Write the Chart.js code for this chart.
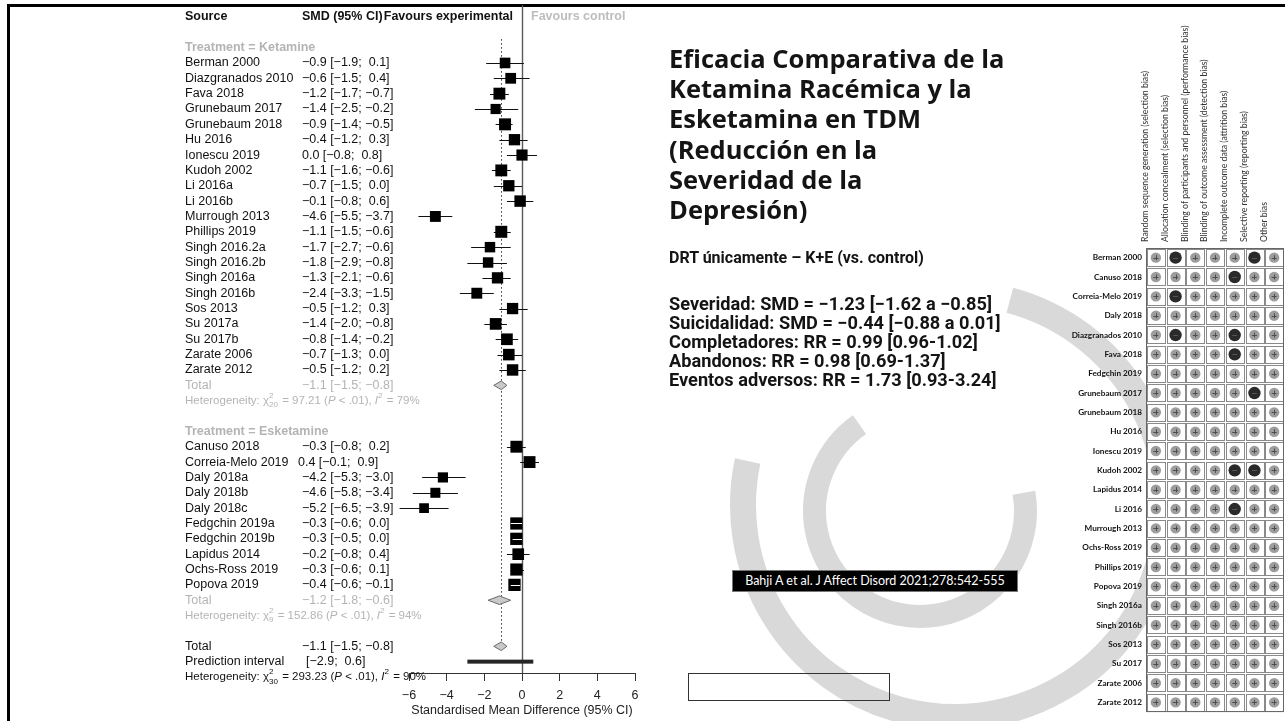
<!DOCTYPE html>
<html>
<head>
<meta charset="utf-8">
<script src="https://cdn.jsdelivr.net/npm/chart.js@4.4.1/dist/chart.umd.min.js"></script>
<style>
  html, body { margin: 0; padding: 0; background: #fff; }
  body { width: 1285px; height: 721px; position: relative; overflow: hidden; font-family: 'Liberation Sans', Arial, sans-serif; }
  #deco { position: absolute; left: 0; top: 0; }
  #frame { position: absolute; left: 7px; top: 4px; width: 1300px; height: 740px; border-top: 3px solid #000; border-left: 3px solid #000; box-sizing: border-box; }
  #forest { position: absolute; left: 0; top: 0; }
  #rob { position: absolute; left: 1040px; top: 0; }
  .title { position: absolute; left: 669px; top: 43px; font-family: 'Open Sans', sans-serif; font-weight: 700; font-size: 25.5px; line-height: 30.2px; color: #141414; white-space: nowrap; }
  .subtitle { position: absolute; left: 669px; top: 248px; font-family: 'Roboto', sans-serif; font-weight: 700; font-size: 16px; line-height: 19px; color: #141414; white-space: nowrap; }
  .stats { position: absolute; left: 669px; top: 294px; font-family: 'Roboto', sans-serif; font-weight: 700; font-size: 18.2px; line-height: 19px; color: #141414; white-space: nowrap; }
  .cite { position: absolute; left: 732px; top: 570px; width: 286px; height: 22px; background: #000; border: 1px solid #777; box-sizing: border-box; color: #fff; font-family: 'Lato', sans-serif; font-size: 12.5px; line-height: 20px; text-align: center; white-space: nowrap; }
  .emptybox { position: absolute; left: 688px; top: 673px; width: 202px; height: 28px; border: 1px solid #333; box-sizing: border-box; }
</style>
</head>
<body>
<canvas id="deco" width="1285" height="721"></canvas>
<div id="frame"></div>
<canvas id="forest" width="660" height="721"></canvas>

<div class="title">Eficacia Comparativa de la<br>Ketamina Racémica y la<br>Esketamina en TDM<br>(Reducción en la<br>Severidad de la<br>Depresión)</div>
<div class="subtitle">DRT únicamente – K+E (vs. control)</div>
<div class="stats">Severidad: SMD = −1.23 [−1.62 a −0.85]<br>Suicidalidad: SMD = −0.44 [−0.88 a 0.01]<br>Completadores: RR = 0.99 [0.96-1.02]<br>Abandonos: RR = 0.98 [0.69-1.37]<br>Eventos adversos: RR = 1.73 [0.93-3.24]</div>
<div class="cite">Bahji A et al. J Affect Disord 2021;278:542-555</div>
<div class="emptybox"></div>

<canvas id="rob" width="245" height="721"></canvas>

<script>
// ---------- Forest plot data: standardised mean differences with 95% CI ----------
const ketamineStudies = ['Berman 2000', 'Diazgranados 2010', 'Fava 2018', 'Grunebaum 2017', 'Grunebaum 2018', 'Hu 2016',
  'Ionescu 2019', 'Kudoh 2002', 'Li 2016a', 'Li 2016b', 'Murrough 2013', 'Phillips 2019', 'Singh 2016.2a', 'Singh 2016.2b',
  'Singh 2016a', 'Singh 2016b', 'Sos 2013', 'Su 2017a', 'Su 2017b', 'Zarate 2006', 'Zarate 2012'];
const ketamineSMD  = [-0.9, -0.6, -1.2, -1.4, -0.9, -0.4, 0.0, -1.1, -0.7, -0.1, -4.6, -1.1, -1.7, -1.8, -1.3, -2.4, -0.5, -1.4, -0.8, -0.7, -0.5];
const ketamineLow  = [-1.9, -1.5, -1.7, -2.5, -1.4, -1.2, -0.8, -1.6, -1.5, -0.8, -5.5, -1.5, -2.7, -2.9, -2.1, -3.3, -1.2, -2.0, -1.4, -1.3, -1.2];
const ketamineHigh = [0.1, 0.4, -0.7, -0.2, -0.5, 0.3, 0.8, -0.6, 0.0, 0.6, -3.7, -0.6, -0.6, -0.8, -0.6, -1.5, 0.3, -0.8, -0.2, 0.0, 0.2];

const esketamineStudies = ['Canuso 2018', 'Correia-Melo 2019', 'Daly 2018a', 'Daly 2018b', 'Daly 2018c', 'Fedgchin 2019a',
  'Fedgchin 2019b', 'Lapidus 2014', 'Ochs-Ross 2019', 'Popova 2019'];
const esketamineSMD  = [-0.3, 0.4, -4.2, -4.6, -5.2, -0.3, -0.3, -0.2, -0.3, -0.4];
const esketamineLow  = [-0.8, -0.1, -5.3, -5.8, -6.5, -0.6, -0.5, -0.8, -0.6, -0.6];
const esketamineHigh = [0.2, 0.9, -3.0, -3.4, -3.9, 0.0, 0.0, 0.4, 0.1, -0.1];

// pooled estimates [estimate, lower, upper]
const ketamineTotal   = [-1.1, -1.5, -0.8];
const esketamineTotal = [-1.2, -1.8, -0.6];
const overallTotal    = [-1.1, -1.5, -0.8];
const predictionInterval = [-2.9, 0.6];

// heterogeneity: [chi-square, df, I² %]
const ketamineHet   = [97.21, 20, 79];
const esketamineHet = [152.86, 9, 94];
const overallHet    = [293.23, 30, 90];

const xTicks = [-6, -4, -2, 0, 2, 4, 6];

// ---------- Risk-of-bias summary ----------
const robStudies = ['Berman 2000', 'Canuso 2018', 'Correia-Melo 2019', 'Daly 2018', 'Diazgranados 2010', 'Fava 2018',
  'Fedgchin 2019', 'Grunebaum 2017', 'Grunebaum 2018', 'Hu 2016', 'Ionescu 2019', 'Kudoh 2002', 'Lapidus 2014', 'Li 2016',
  'Murrough 2013', 'Ochs-Ross 2019', 'Phillips 2019', 'Popova 2019', 'Singh 2016a', 'Singh 2016b', 'Sos 2013', 'Su 2017',
  'Zarate 2006', 'Zarate 2012'];
const robDomains = ['Random sequence generation (selection bias)', 'Allocation concealment (selection bias)',
  'Blinding of participants and personnel (performance bias)', 'Blinding of outcome assessment (detection bias)',
  'Incomplete outcome data (attrition bias)', 'Selective reporting (reporting bias)', 'Other bias'];
// one character per domain: '+' low risk, '-' high risk
const robJudgements = ['+-+++-+', '++++-++', '+-+++++', '+++++++', '+-++-++', '++++-++', '+++++++', '+++++-+',
  '+++++++', '+++++++', '+++++++', '++++--+', '+++++++', '++++-++', '+++++++', '+++++++', '+++++++', '+++++++',
  '+++++++', '+++++++', '+++++++', '+++++++', '+++++++', '+++++++'];

// ---------- decorative background arcs ----------
(function drawDeco() {
  const c = document.getElementById('deco').getContext('2d');
  const deg = Math.PI / 180;
  c.strokeStyle = '#d9d9d9';
  c.lineCap = 'butt';
  c.lineWidth = 23;
  c.beginPath();
  c.arc(920, 511, 105.5, -10 * deg, 235 * deg, false);
  c.stroke();
  c.lineWidth = 26;
  c.beginPath();
  c.arc(955, 505, 212, -75 * deg, 192 * deg, false);
  c.stroke();
})();

// ---------- forest plot ----------
const FONT = "'Liberation Sans', Arial, sans-serif";
const GREY = '#b4b4b4';
const minus = s => s.replace(/-/g, '\u2212');
const fmt = v => (v < 0 ? '\u2212' : '') + Math.abs(v).toFixed(1);
const ciText = (e, lo, hi) => `${fmt(e)} [${fmt(lo)}; ${hi >= 0 ? ' ' : ''}${fmt(hi)}]`;

// row layout (one row per text line, top to bottom)
const ROW_KET_LABEL = 2;
const ROW_KET_FIRST = 3;
const ROW_KET_TOTAL = ROW_KET_FIRST + ketamineStudies.length;
const ROW_ES_LABEL = ROW_KET_TOTAL + 3;
const ROW_ES_FIRST = ROW_ES_LABEL + 1;
const ROW_ES_TOTAL = ROW_ES_FIRST + esketamineStudies.length;
const ROW_ALL_TOTAL = ROW_ES_TOTAL + 3;

const studyPoints = [];
ketamineStudies.forEach((s, i) => studyPoints.push({ x: ketamineSMD[i], y: ROW_KET_FIRST + i, lo: ketamineLow[i], hi: ketamineHigh[i], name: s }));
esketamineStudies.forEach((s, i) => studyPoints.push({ x: esketamineSMD[i], y: ROW_ES_FIRST + i, lo: esketamineLow[i], hi: esketamineHigh[i], name: s }));

// between-study variance implied by the prediction interval (t with k-2 df ≈ 2.045)
const seOverall = (overallTotal[2] - overallTotal[1]) / 3.92;
const tau2 = Math.pow((predictionInterval[1] - predictionInterval[0]) / 2 / 2.045, 2) - seOverall * seOverall;
// random-effects weight -> square side in px
function squareSide(p) {
  const se = (p.hi - p.lo) / 3.92;
  const w = 1 / (se * se + tau2);
  return 10.4 * Math.sqrt(w);
}

function richText(ctx, x, y, parts, size, color) {
  ctx.save();
  ctx.fillStyle = color;
  ctx.textBaseline = 'middle';
  ctx.textAlign = 'left';
  let cx = x;
  for (const p of parts) {
    if (p.sup !== undefined || p.sub !== undefined) {
      ctx.font = `${size * 0.7}px ${FONT}`;
      let w = 0;
      if (p.sup !== undefined) { ctx.fillText(p.sup, cx, y - size * 0.42); w = ctx.measureText(p.sup).width; }
      if (p.sub !== undefined) { ctx.fillText(p.sub, cx, y + size * 0.38); w = Math.max(w, ctx.measureText(p.sub).width); }
      cx += w + 1;
    } else {
      ctx.font = `${p.it ? 'italic ' : ''}${size}px ${FONT}`;
      ctx.fillText(p.t, cx, y);
      cx += ctx.measureText(p.t).width;
    }
  }
  ctx.restore();
}
function hetParts(h) {
  return [{ t: 'Heterogeneity: ' }, { t: '\u03c7' }, { sup: '2', sub: String(h[1]) },
    { t: ' = ' + h[0].toFixed(2) + ' (' }, { t: 'P', it: true }, { t: ' < .01), ' },
    { t: 'I', it: true }, { sup: '2' }, { t: ' = ' + h[2] + '%' }];
}

const forestPlugin = {
  id: 'forestMarks',
  beforeDatasetsDraw(chart) {
    const { ctx, scales: { x, y }, chartArea } = chart;
    ctx.save();
    // line of no effect
    ctx.strokeStyle = '#5a5a5a';
    ctx.lineWidth = 1.4;
    ctx.beginPath();
    ctx.moveTo(Math.round(x.getPixelForValue(0)) + 0.5, y.getPixelForValue(-0.75));
    ctx.lineTo(Math.round(x.getPixelForValue(0)) + 0.5, chartArea.bottom);
    ctx.stroke();
    // dotted line at the overall pooled estimate
    ctx.strokeStyle = '#333';
    ctx.lineWidth = 1;
    ctx.setLineDash([1.5, 2.5]);
    const xo = Math.round(x.getPixelForValue(overallTotal[0])) + 0.5;
    ctx.beginPath();
    ctx.moveTo(xo, y.getPixelForValue(1.45));
    ctx.lineTo(xo, y.getPixelForValue(ROW_ALL_TOTAL));
    ctx.stroke();
    ctx.setLineDash([]);
    // confidence intervals
    ctx.strokeStyle = '#111';
    ctx.lineWidth = 1;
    for (const p of studyPoints) {
      const py = Math.round(y.getPixelForValue(p.y)) + 0.5;
      ctx.beginPath();
      ctx.moveTo(x.getPixelForValue(p.lo), py);
      ctx.lineTo(x.getPixelForValue(p.hi), py);
      ctx.stroke();
    }
    ctx.restore();
  },
  afterDatasetsDraw(chart) {
    const { ctx, scales: { x, y } } = chart;
    ctx.save();
    // CI drawn in white where it lies completely inside its square
    ctx.strokeStyle = '#fff';
    ctx.lineWidth = 1;
    for (const p of studyPoints) {
      const half = squareSide(p) / 2;
      const cx = x.getPixelForValue(p.x);
      const l = x.getPixelForValue(p.lo), r = x.getPixelForValue(p.hi);
      if (l > cx - half && r < cx + half) {
        const py = Math.round(y.getPixelForValue(p.y)) + 0.5;
        ctx.beginPath(); ctx.moveTo(l, py); ctx.lineTo(r, py); ctx.stroke();
      }
    }
    // pooled diamonds
    const diamond = (row, est) => {
      const py = y.getPixelForValue(row);
      ctx.beginPath();
      ctx.moveTo(x.getPixelForValue(est[1]), py);
      ctx.lineTo(x.getPixelForValue(est[0]), py - 4.3);
      ctx.lineTo(x.getPixelForValue(est[2]), py);
      ctx.lineTo(x.getPixelForValue(est[0]), py + 4.3);
      ctx.closePath();
      ctx.fillStyle = '#c9c9c9';
      ctx.fill();
      ctx.strokeStyle = '#6a6a6a';
      ctx.lineWidth = 1;
      ctx.stroke();
    };
    diamond(ROW_KET_TOTAL, ketamineTotal);
    diamond(ROW_ES_TOTAL, esketamineTotal);
    diamond(ROW_ALL_TOTAL, overallTotal);
    // prediction interval bar
    const pr = y.getPixelForValue(ROW_ALL_TOTAL + 1);
    const pl = x.getPixelForValue(predictionInterval[0]);
    ctx.fillStyle = '#262626';
    ctx.fillRect(pl, pr - 2, x.getPixelForValue(predictionInterval[1]) - pl, 4);
    ctx.restore();
  },
  afterDraw(chart) {
    const { ctx, scales: { x, y } } = chart;
    const X_NAME = 185, X_CI = 302;
    const size = 12.5;
    const put = (txt, px, row, color, bold, align) => {
      ctx.font = `${bold ? 'bold ' : ''}${size}px ${FONT}`;
      ctx.fillStyle = color;
      ctx.textAlign = align || 'left';
      ctx.textBaseline = 'middle';
      ctx.fillText(txt, px, y.getPixelForValue(row));
    };
    ctx.save();
    const x0 = x.getPixelForValue(0);
    put('Source', X_NAME, 0, '#111', true);
    put('SMD (95% CI)', X_CI, 0, '#111', true);
    put('Favours experimental', x0 - 9, 0, '#111', true, 'right');
    put('Favours control', x0 + 9, 0, '#bdbdbd', true);

    put('Treatment = Ketamine', X_NAME, ROW_KET_LABEL, GREY, true);
    ketamineStudies.forEach((s, i) => {
      put(s, X_NAME, ROW_KET_FIRST + i, '#111');
      put(ciText(ketamineSMD[i], ketamineLow[i], ketamineHigh[i]), X_CI, ROW_KET_FIRST + i, '#111');
    });
    put('Total', X_NAME, ROW_KET_TOTAL, GREY);
    put(ciText(...ketamineTotal), X_CI, ROW_KET_TOTAL, GREY);
    richText(ctx, X_NAME, y.getPixelForValue(ROW_KET_TOTAL + 1), hetParts(ketamineHet), 11.5, GREY);

    put('Treatment = Esketamine', X_NAME, ROW_ES_LABEL, GREY, true);
    esketamineStudies.forEach((s, i) => {
      put(s, X_NAME, ROW_ES_FIRST + i, '#111');
      put(ciText(esketamineSMD[i], esketamineLow[i], esketamineHigh[i]), X_CI - (esketamineSMD[i] >= 0 ? 4 : 0), ROW_ES_FIRST + i, '#111');
    });
    put('Total', X_NAME, ROW_ES_TOTAL, GREY);
    put(ciText(...esketamineTotal), X_CI, ROW_ES_TOTAL, GREY);
    richText(ctx, X_NAME, y.getPixelForValue(ROW_ES_TOTAL + 1), hetParts(esketamineHet), 11.5, GREY);

    put('Total', X_NAME, ROW_ALL_TOTAL, '#111');
    put(ciText(...overallTotal), X_CI, ROW_ALL_TOTAL, '#111');
    put('Prediction interval', X_NAME, ROW_ALL_TOTAL + 1, '#111');
    put(`[${fmt(predictionInterval[0])}; ${predictionInterval[1] >= 0 ? ' ' : ''}${fmt(predictionInterval[1])}]`, X_CI + 4, ROW_ALL_TOTAL + 1, '#111');
    richText(ctx, X_NAME, y.getPixelForValue(ROW_ALL_TOTAL + 2), hetParts(overallHet), 11.5, '#111');
    ctx.restore();
  }
};

new Chart(document.getElementById('forest'), {
  type: 'scatter',
  data: {
    datasets: [{
      data: studyPoints,
      pointStyle: 'rect',
      pointRadius: c => squareSide(c.raw) / Math.SQRT2,
      pointHoverRadius: c => squareSide(c.raw) / Math.SQRT2,
      backgroundColor: '#000',
      borderWidth: 0
    }]
  },
  options: {
    responsive: false,
    animation: false,
    events: [],
    layout: { autoPadding: false, padding: { left: 409, right: 25, top: 0, bottom: 0 } },
    plugins: { legend: { display: false }, tooltip: { enabled: false } },
    scales: {
      x: {
        type: 'linear', position: 'bottom',
        min: xTicks[0], max: xTicks[xTicks.length - 1],
        afterBuildTicks: s => { s.ticks = xTicks.map(v => ({ value: v })); },
        afterFit: s => { s.height = 48; },
        ticks: { font: { family: FONT, size: 12.5 }, color: '#222', padding: 7, callback: v => minus(String(v)) },
        grid: { drawOnChartArea: false, drawTicks: true, tickLength: 8, color: '#333', lineWidth: 1 },
        border: { display: true, color: '#333', width: 1 },
        title: { display: true, text: 'Standardised Mean Difference (95% CI)', font: { family: FONT, size: 12.5 }, color: '#222', padding: { top: 0, bottom: 3 } }
      },
      y: { type: 'linear', display: false, reverse: true, min: -1.1, max: 42.74 }
    }
  },
  plugins: [forestPlugin]
});

// ---------- risk-of-bias summary table ----------
const robPoints = [];
robStudies.forEach((s, i) => {
  for (let d = 0; d < robDomains.length; d++) robPoints.push({ x: robDomains[d], y: s, j: robJudgements[i][d] });
});

const robPlugin = {
  id: 'robCells',
  beforeDatasetsDraw(chart) {
    const { ctx, scales: { x, y }, chartArea } = chart;
    const hw = (x.getPixelForValue(1) - x.getPixelForValue(0)) / 2;
    const hh = (y.getPixelForValue(1) - y.getPixelForValue(0)) / 2;
    ctx.save();
    ctx.fillStyle = '#fff';
    ctx.fillRect(chartArea.left, chartArea.top, chartArea.width, chartArea.height);
    ctx.strokeStyle = '#8a8a8a';
    ctx.lineWidth = 1;
    for (let i = 0; i < robStudies.length; i++) {
      for (let d = 0; d < robDomains.length; d++) {
        const cx = x.getPixelForValue(d), cy = y.getPixelForValue(i);
        ctx.strokeRect(Math.round(cx - hw) + 1.5, Math.round(cy - hh) + 1.5, Math.round(2 * hw) - 2, Math.round(2 * hh) - 2);
      }
    }
    ctx.strokeStyle = '#666';
    ctx.strokeRect(chartArea.left + 0.5, chartArea.top + 0.5, chartArea.width - 1, chartArea.height - 1);
    ctx.restore();
  },
  afterDatasetsDraw(chart) {
    const { ctx } = chart;
    const meta = chart.getDatasetMeta(0);
    ctx.save();
    meta.data.forEach((el, k) => {
      const j = robPoints[k].j;
      ctx.strokeStyle = j === '+' ? '#4d4d4d' : '#555';
      ctx.lineWidth = 1;
      ctx.beginPath();
      ctx.moveTo(el.x - 2.5, Math.round(el.y) + 0.5); ctx.lineTo(el.x + 2.5, Math.round(el.y) + 0.5);
      if (j === '+') { ctx.moveTo(Math.round(el.x) + 0.5, el.y - 2.5); ctx.lineTo(Math.round(el.x) + 0.5, el.y + 2.5); }
      ctx.stroke();
    });
    ctx.restore();
  }
};

new Chart(document.getElementById('rob'), {
  type: 'scatter',
  data: {
    datasets: [{
      data: robPoints,
      pointRadius: c => (c.raw.j === '+' ? 5.2 : 6.2),
      pointHoverRadius: c => (c.raw.j === '+' ? 5.2 : 6.2),
      backgroundColor: c => (c.raw.j === '+' ? '#9d9d9d' : '#2a2a2a'),
      borderWidth: 0
    }]
  },
  options: {
    responsive: false,
    animation: false,
    events: [],
    layout: { autoPadding: false, padding: { left: 0, right: 1, top: 0, bottom: 0 } },
    plugins: { legend: { display: false }, tooltip: { enabled: false } },
    scales: {
      x: {
        type: 'category', position: 'top', labels: robDomains, offset: true,
        afterFit: s => { s.height = 248; },
        ticks: { autoSkip: false, minRotation: 90, maxRotation: 90, padding: 6, font: { family: 'Lato', size: 8.7 }, color: '#333' },
        grid: { display: false, drawTicks: false }, border: { display: false }
      },
      y: {
        type: 'category', labels: robStudies, offset: true,
        afterFit: s => { s.width = 106; },
        ticks: { autoSkip: false, padding: 4, font: { family: 'Lato', size: 8.2, weight: 'bold' }, color: '#111' },
        grid: { display: false, drawTicks: false }, border: { display: false }
      }
    }
  },
  plugins: [robPlugin]
});
</script>
</body>
</html>
